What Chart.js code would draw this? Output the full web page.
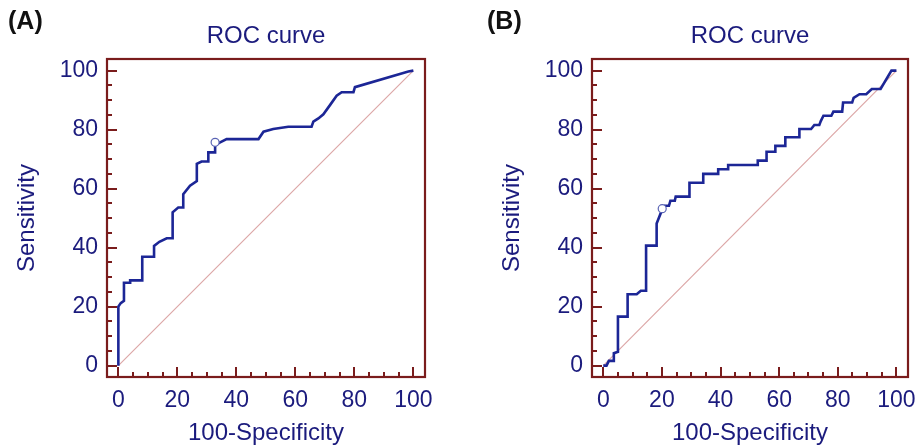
<!DOCTYPE html>
<html>
<head>
<meta charset="utf-8">
<script src="https://cdn.jsdelivr.net/npm/chart.js@4/dist/chart.umd.min.js"></script>
<style>
  html, body { margin: 0; padding: 0; background: #ffffff; }
  #wrap { position: relative; width: 919px; height: 447px; overflow: hidden; }
  .panel { position: absolute; top: 0; }
  .tag { position: absolute; top: 6px; font: bold 25px "Liberation Sans", Arial, sans-serif; color: #111; }
</style>
</head>
<body>
<div id="wrap">
  <div class="panel" style="left:0px;"><canvas id="cA" width="485" height="447"></canvas></div>
  <div class="panel" style="left:485px;"><canvas id="cB" width="434" height="447"></canvas></div>
  <div class="tag" style="left:8px;">(A)</div>
  <div class="tag" style="left:487px;">(B)</div>
</div>
<script>
// ---------- DATA ----------
const panelTitle = "ROC curve";
const xAxisTitle = "100-Specificity";
const yAxisTitle = "Sensitivity";
const tickValues = [0,5,10,15,20,25,30,35,40,45,50,55,60,65,70,75,80,85,90,95,100];
const tickLabels = ["0","","","","20","","","","40","","","","60","","","","80","","","","100"];

// Panel A ROC curve (100-Specificity, Sensitivity)
const xA = [0, 0, 0.8, 1.9, 1.9, 4.0, 4.0, 8.1, 8.1, 12.1, 12.1, 13.9, 16.4, 18.4, 18.4, 20.3, 22.0, 22.0, 24.3, 26.6, 26.6, 28.2, 30.5, 30.5, 32.8, 32.8, 34.5, 36.7, 47.5, 49.2, 52.5, 57.6, 65.5, 66.1, 67.8, 69.5, 71.8, 74.0, 75.7, 79.7, 80.2, 98.3, 100];
const yA = [0, 20, 21.2, 22, 28.1, 28.1, 28.9, 28.9, 36.9, 36.9, 40.6, 42, 43.2, 43.2, 52, 53.6, 53.6, 58.1, 61, 62.6, 68.4, 69.2, 69.2, 72.3, 72.3, 74.8, 75.7, 76.8, 76.8, 79.3, 80.2, 81, 81, 82.7, 83.8, 85.2, 88.4, 91.5, 92.7, 92.7, 94.4, 99.7, 100];
const cutA = [32.8, 75.7];

// Panel B ROC curve
const xB = [0, 1.1, 1.9, 3.4, 3.6, 5.0, 5.0, 8.3, 8.3, 11.4, 12.8, 14.6, 14.6, 18.2, 18.2, 19.8, 21.0, 22.4, 22.9, 24.4, 24.7, 29.4, 29.4, 34.1, 34.1, 39.2, 39.2, 42.6, 42.6, 52.7, 52.7, 55.7, 55.7, 58.7, 58.7, 62.1, 62.1, 66.9, 66.9, 70.9, 72.0, 73.7, 74.2, 75.1, 77.8, 78.5, 81.5, 81.8, 84.9, 85.4, 87.4, 89.7, 91.6, 94.6, 98.3, 100];
const yB = [0, 0, 1.6, 1.6, 4.2, 4.7, 16.6, 16.6, 24.2, 24.2, 25.4, 25.4, 40.7, 40.7, 48.2, 52.2, 54.2, 54.2, 55.9, 55.9, 57.3, 57.3, 62.0, 62.0, 65.0, 65.0, 66.6, 66.6, 68.0, 68.0, 69.5, 69.5, 72.5, 72.5, 74.5, 74.5, 77.4, 77.4, 80.2, 80.2, 81.6, 81.6, 82.9, 84.7, 84.7, 86.1, 86.1, 89.2, 89.2, 90.8, 92.0, 92.0, 93.8, 93.8, 100, 100];
const cutB = [20.1, 53.2];

// Reference (chance) diagonal
const diagX = [0, 100];
const diagY = [0, 100];

// ---------- STYLE ----------
const NAVY = '#1b1b7d';
const MAROON = '#7a1c1c';
const CURVE = '#1c2696';
const DIAG = '#dca6a6';
const FONT = '"Liberation Sans", Arial, sans-serif';

const zip = (xs, ys) => xs.map((x, i) => ({ x: x, y: ys[i] }));

const frameTicks = {
  id: 'frameTicks',
  beforeDatasetsDraw(chart) {
    const ctx = chart.ctx, a = chart.chartArea;
    const xs = chart.scales.x, ys = chart.scales.y;
    ctx.save();
    ctx.strokeStyle = MAROON;
    ctx.lineWidth = 2;
    tickValues.forEach((v, i) => {
      const len = tickLabels[i] !== "" ? 10 : 5;
      const px = Math.round(xs.getPixelForValue(v));
      ctx.beginPath(); ctx.moveTo(px, a.bottom); ctx.lineTo(px, a.bottom - len); ctx.stroke();
      const py = Math.round(ys.getPixelForValue(v));
      ctx.beginPath(); ctx.moveTo(a.left, py); ctx.lineTo(a.left + len, py); ctx.stroke();
    });
    ctx.lineWidth = 2.2;
    ctx.strokeRect(a.left, a.top, a.right - a.left, a.bottom - a.top);
    ctx.restore();
  }
};

function makeChart(id, xs, ys, cut, padRight) {
  const axisCommon = (title, isX) => ({
    type: 'linear',
    min: -3.85,
    max: 103.95,
    afterBuildTicks: s => { s.ticks = tickValues.map(v => ({ value: v })); },
    afterFit: s => {
      if (isX) { s.height = 70; s.paddingLeft = 0; s.paddingRight = 0; }
      else { s.width = 107; s.paddingTop = 0; s.paddingBottom = 0; }
    },
    grid: { display: false, drawTicks: false },
    border: { display: false },
    ticks: {
      autoSkip: false,
      maxRotation: 0,
      minRotation: 0,
      padding: isX ? 10 : 9,
      color: NAVY,
      font: { family: FONT, size: 23 },
      callback: (v) => { const i = tickValues.indexOf(v); return i >= 0 ? tickLabels[i] : ''; }
    },
    title: {
      display: true,
      text: title,
      color: NAVY,
      font: { family: FONT, size: 24 },
      padding: isX ? { top: 0, bottom: -1 } : { top: 13, bottom: 0 }
    }
  });

  return new Chart(document.getElementById(id), {
    type: 'scatter',
    data: {
      datasets: [
        { data: zip(diagX, diagY), showLine: true, borderColor: DIAG, borderWidth: 1.2, pointRadius: 0, order: 3 },
        { data: zip(xs, ys), showLine: true, borderColor: CURVE, borderWidth: 2.6, pointRadius: 0, tension: 0, order: 2 },
        { data: [{ x: cut[0], y: cut[1] }], showLine: false, pointRadius: 4, pointStyle: 'circle',
          backgroundColor: '#ffffff', borderColor: '#5a64b4', borderWidth: 1.2, order: 1 }
      ]
    },
    options: {
      responsive: false,
      animation: false,
      events: [],
      layout: { padding: { left: 0, right: padRight, top: 0, bottom: 0 } },
      plugins: {
        legend: { display: false },
        tooltip: { enabled: false },
        title: {
          display: true,
          fullSize: false,
          text: panelTitle,
          color: NAVY,
          font: { family: FONT, size: 24, weight: 'normal' },
          padding: { top: 21.6, bottom: 8.6 }
        }
      },
      scales: {
        x: axisCommon(xAxisTitle, true),
        y: axisCommon(yAxisTitle, false)
      }
    },
    plugins: [frameTicks]
  });
}

makeChart('cA', xA, yA, cutA, 60);
makeChart('cB', xB, yB, cutB, 11);
</script>
</body>
</html>
